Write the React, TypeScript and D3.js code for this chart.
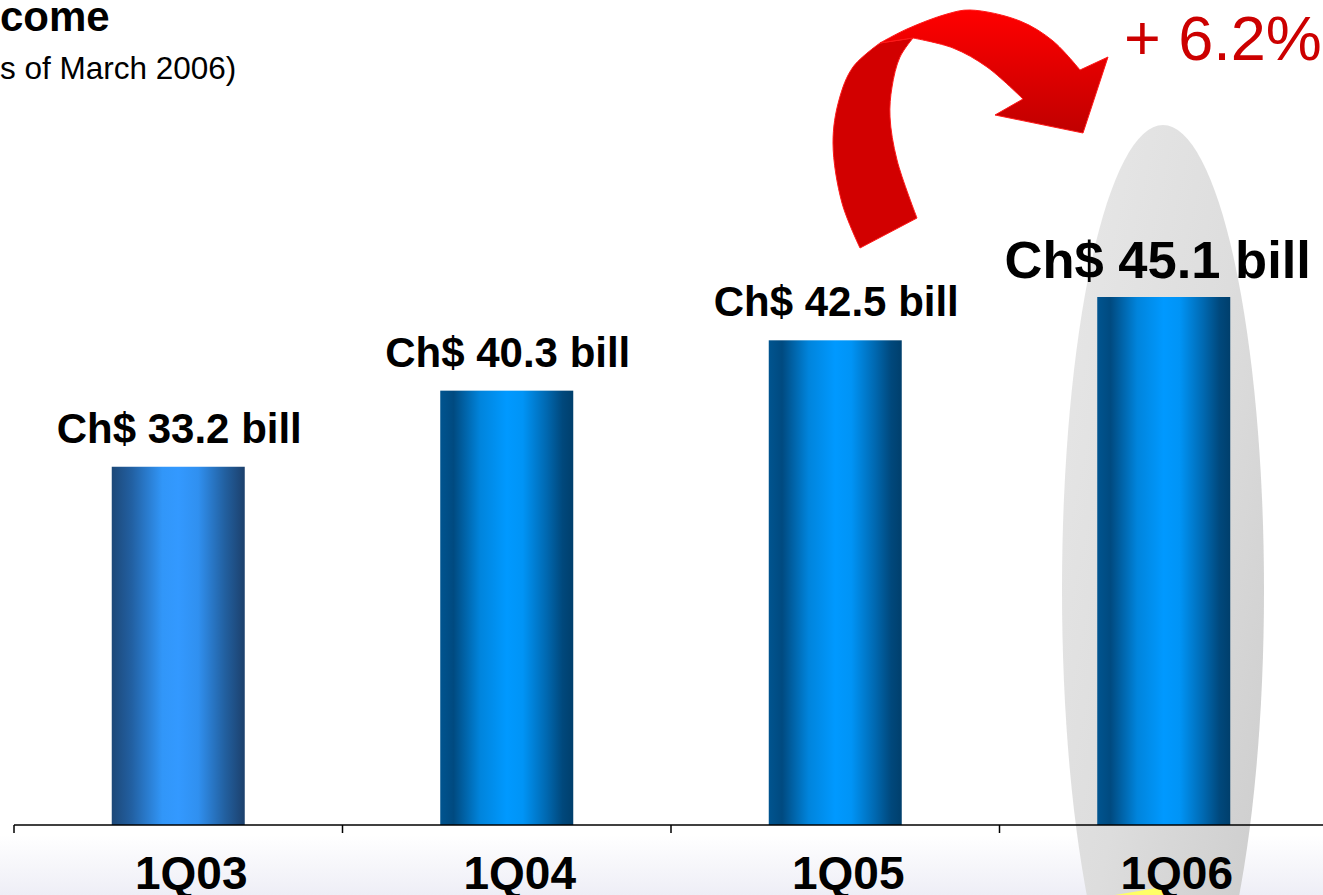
import React from "react";
import * as d3 from "d3";

const categories = ["1Q03", "1Q04", "1Q05", "1Q06"];
// bar heights as drawn in the picture (Ch$ billions)
const barValues = [30.6, 37.1, 41.4, 45.1];
const valueLabels = ["Ch$ 33.2 bill", "Ch$ 40.3 bill", "Ch$ 42.5 bill", "Ch$ 45.1 bill"];
const titleText = "come";
const subtitleText = "s of March 2006)";
const growthText = "+ 6.2%";

const W = 1323;
const H = 895;
const baseY = 825;

export default function App() {
  const x = d3.scaleBand<string>().domain(categories).range([14, 14 + 4 * 328.5]).paddingInner(0).paddingOuter(0);
  const y = d3.scaleLinear().domain([0, 45.1]).range([baseY, 297]);
  const barW = 133;

  const ticks = categories.map((c) => x(c)!);

  // arrow outline (annotation)
  const curve = d3.line<[number, number]>().curve(d3.curveCatmullRom.alpha(0.5));
  const stemOuter: [number, number][] = [[860, 248], [842, 203], [833, 143], [839, 100], [853, 67], [880, 43]];
  const stemInner: [number, number][] = [[913, 38], [900, 57], [892, 87], [890, 117], [897, 160], [917, 218]];
  const topOuter: [number, number][] = [[880, 43], [907, 29], [947, 14], [970, 10], [1020, 21], [1053, 41], [1080, 70]];
  const topInner: [number, number][] = [[1023, 99], [987, 67], [953, 48], [913, 38]];
  const stemPath = curve(stemOuter)! + "L" + curve(stemInner)!.slice(1) + "Z";
  const topPath = curve(topOuter)! + "L1108,57L1083,133L995,115L" + curve(topInner)!.slice(1) + "Z";

  return (
    <svg
      width={W}
      height={H}
      style={{ position: "absolute", left: 0, top: 0, fontFamily: "'Liberation Sans', Arial, sans-serif" }}
    >
      <defs>
        <linearGradient id="bg" x1="0" y1="0" x2="0" y2="1">
          <stop offset="0" stopColor="#ffffff" />
          <stop offset="1" stopColor="#eeeef6" />
        </linearGradient>
        <linearGradient id="ell" x1="0" y1="0" x2="1" y2="1">
          <stop offset="0" stopColor="#e8e8e8" />
          <stop offset="0.5" stopColor="#dddddd" />
          <stop offset="1" stopColor="#cacaca" />
        </linearGradient>
        <linearGradient id="bar0" x1="0" y1="0" x2="1" y2="0">
          <stop offset="0" stopColor="#1d4878" />
          <stop offset="0.15" stopColor="#2260a2" />
          <stop offset="0.38" stopColor="#3196f8" />
          <stop offset="0.5" stopColor="#3399ff" />
          <stop offset="0.65" stopColor="#3090f0" />
          <stop offset="0.85" stopColor="#2260a0" />
          <stop offset="1" stopColor="#1c406c" />
        </linearGradient>
        <linearGradient id="bar1" x1="0" y1="0" x2="1" y2="0">
          <stop offset="0" stopColor="#00548f" />
          <stop offset="0.1" stopColor="#004a80" />
          <stop offset="0.3" stopColor="#0084dc" />
          <stop offset="0.5" stopColor="#0099ff" />
          <stop offset="0.62" stopColor="#0094f6" />
          <stop offset="0.8" stopColor="#0068b0" />
          <stop offset="0.92" stopColor="#00487c" />
          <stop offset="1" stopColor="#003f6c" />
        </linearGradient>
        <linearGradient id="arrowTop" x1="0" y1="0" x2="0" y2="1">
          <stop offset="0" stopColor="#ff0000" />
          <stop offset="1" stopColor="#c00000" />
        </linearGradient>
      </defs>

      <rect x={0} y={835} width={W} height={H - 835} fill="url(#bg)" />

      <ellipse cx={1163} cy={590} rx={101} ry={465} fill="url(#ell)" />
      <polygon points="1115,895 1163,887 1172,895" fill="#ffff66" />

      {categories.map((c, i) => (
        <rect
          key={c}
          x={x(c)! + x.bandwidth() / 2 - barW / 2}
          y={y(barValues[i])}
          width={barW}
          height={baseY - y(barValues[i])}
          fill={i === 0 ? "url(#bar0)" : "url(#bar1)"}
        />
      ))}

      <line x1={14} x2={W} y1={baseY} y2={baseY} stroke="#000" strokeWidth={1.5} />
      {ticks.map((t, i) => (
        <line key={i} x1={t} x2={t} y1={baseY} y2={baseY + 8} stroke="#000" strokeWidth={1.5} />
      ))}

      {categories.map((c) => (
        <text
          key={c}
          x={x(c)! + x.bandwidth() / 2 + 13}
          y={889}
          textAnchor="middle"
          fontSize={46}
          fontWeight="bold"
          fill="#000"
        >
          {c}
        </text>
      ))}

      {categories.map((c, i) => {
        const last = i === categories.length - 1;
        return (
          <text
            key={c + "l"}
            x={x(c)! + x.bandwidth() / 2 + (last ? -6 : 1)}
            y={y(barValues[i]) - (last ? 19 : 24)}
            textAnchor="middle"
            fontSize={last ? 52.5 : 42}
            fontWeight="bold"
            fill="#000"
          >
            {valueLabels[i]}
          </text>
        );
      })}

      <path d={stemPath} fill="#d20000" stroke="#ff1a1a" strokeWidth={1} />
      <path d={topPath} fill="url(#arrowTop)" stroke="#ff1a1a" strokeWidth={1} />

      <text x={1124} y={60} fontSize={63} fill="#cc0000">
        {growthText}
      </text>

      <text x={0} y={31} fontSize={42} fontWeight="bold" fill="#000">
        {titleText}
      </text>
      <text x={0} y={79} fontSize={31.5} fill="#000">
        {subtitleText}
      </text>
    </svg>
  );
}
